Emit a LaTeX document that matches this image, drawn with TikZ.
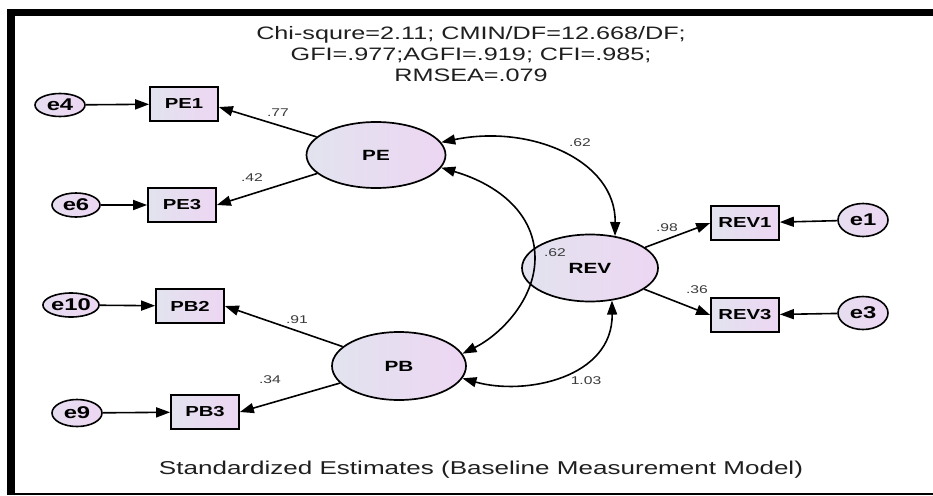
\documentclass[tikz,border=0pt]{standalone}
\usepackage{fontspec}
\setmainfont[FakeStretch=1.4]{Liberation Sans}
\usetikzlibrary{arrows.meta,shapes.geometric}
\definecolor{fillL}{HTML}{E2E3EF}
\definecolor{fillR}{HTML}{EDD6F2}
\definecolor{coefc}{HTML}{3A3A3A}
\begin{document}
\begin{tikzpicture}[x=1pt,y=-1pt,
  obs/.style={draw=black, line width=1.7pt, rectangle, minimum width=68pt, minimum height=34pt, inner sep=0pt, left color=fillL, right color=fillR, font=\fontsize{14.5}{16}\selectfont\bfseries},
  lat/.style={draw=black, ellipse, line width=1.7pt, minimum width=137pt, minimum height=67pt, inner sep=0pt, left color=fillL, right color=fillR, font=\fontsize{14.8}{16}\selectfont\bfseries},
  err/.style={draw=black, ellipse, line width=1.6pt, inner sep=0pt, left color=fillL!60!fillR, right color=fillR, font=\fontsize{17}{18}\selectfont\bfseries},
  pathar/.style={line width=1.6pt, -{Triangle[length=14pt,width=10pt]}},
  covar/.style={line width=1.6pt, {Triangle[length=14pt,width=10pt]}-{Triangle[length=14pt,width=10pt]}},
  coefl/.style={font=\fontsize{11.2}{12}\selectfont, text=coefc, inner sep=0pt}
]
\useasboundingbox (0,0) rectangle (933,495);
\fill[white] (0,0) rectangle (933,495);
% frame
\fill[black] (7,9) rectangle (933,16);
\fill[black] (7,9) rectangle (15,494.5);
\draw[line width=1.5pt] (7,494.2) -- (933,494.2);

% title and caption
\node (title) [align=center, font=\fontsize{18}{21}\selectfont, text=black!88] at (471,54)
  {Chi-squre=2.11; CMIN/DF=12.668/DF;\\GFI=.977;AGFI=.919; CFI=.985;\\RMSEA=.079};
\node (caption) [font=\fontsize{18.6}{20}\selectfont, text=black!88] at (481,470)
  {Standardized Estimates (Baseline Measurement Model)};

% latent variables
\node (PE)  [lat, minimum width=139pt, minimum height=66pt] at (376,155) {PE};
\node (PB)  [lat, minimum width=134pt, minimum height=68pt] at (399,366) {PB};
\node (REV) [lat, minimum width=136pt, minimum height=67pt] at (590,268) {REV};

% observed variables
\node (PE1)  [obs] at (184,104) {PE1};
\node (PE3)  [obs] at (182,205) {PE3};
\node (PB2)  [obs] at (190,306) {PB2};
\node (PB3)  [obs] at (205,412) {PB3};
\node (REV1) [obs] at (745,223) {REV1};
\node (REV3) [obs] at (745,315) {REV3};

% error terms
\node (e4)  [err, minimum width=50pt, minimum height=23pt] at (60,105) {e4};
\node (e6)  [err, minimum width=48pt, minimum height=24pt] at (76,205) {e6};
\node (e10) [err, minimum width=52pt, minimum height=24pt] at (71,305) {e10};
\node (e9)  [err, minimum width=50pt, minimum height=27pt] at (77,413) {e9};
\node (e1)  [err, minimum width=50pt, minimum height=33pt] at (863,220) {e1};
\node (e3)  [err, minimum width=50pt, minimum height=33pt] at (863,313) {e3};

% error paths
\draw[pathar] (e4) -- (PE1);
\draw[pathar] (e6) -- (PE3);
\draw[pathar] (e10) -- (PB2);
\draw[pathar] (e9) -- (PB3);
\draw[pathar] (e1) -- (REV1);
\draw[pathar] (e3) -- (REV3);

% loadings
\draw[pathar] (PE) -- (PE1.-5);
\draw[pathar] (PE) -- (PE3.east);
\draw[pathar] (PB) -- (PB2.east);
\draw[pathar] (PB) -- (PB3.east);
\draw[pathar] (REV) -- (REV1.west);
\draw[pathar] (REV) -- (REV3.west);

% covariances
\draw[covar] (PE.11) .. controls (530,124) and (616,160) .. (REV.52);
\draw[covar] (PE.-11) .. controls (500,185) and (535,215) .. (535,258)
             .. controls (535,300) and (500,335) .. (PB.11);
\draw[covar] (PB.-11) .. controls (525,396) and (613,378) .. (REV.-56);

% coefficients
\node (c77)  [coefl] at (278,113) {.77};
\node (c42)  [coefl] at (252,178) {.42};
\node (c91)  [coefl] at (297,320) {.91};
\node (c34)  [coefl] at (270,380) {.34};
\node (c98)  [coefl] at (667,228) {.98};
\node (c36)  [coefl] at (697,290) {.36};
\node (c62a) [coefl] at (580,143) {.62};
\node (c62b) [coefl] at (555,253) {.62};
\node (c103) [coefl] at (586,381) {1.03};
\end{tikzpicture}
\end{document}
